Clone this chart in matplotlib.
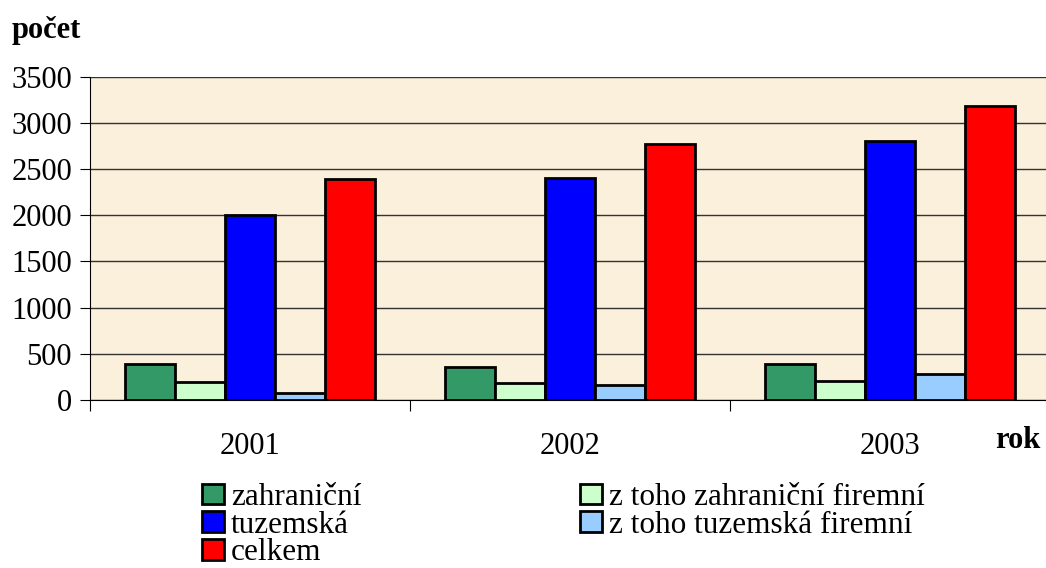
import numpy as np
import matplotlib
matplotlib.use('Agg')
import matplotlib.pyplot as plt

# data
years = ['2001', '2002', '2003']
zahranicni = [390, 360, 385]
zahranicni_firemni = [200, 180, 205]
tuzemska = [2000, 2405, 2800]
tuzemska_firemni = [75, 160, 285]
celkem = [2390, 2765, 3185]

series = [
    ('zahraniční', zahranicni, '#339966'),
    ('z toho zahraniční firemní', zahranicni_firemni, '#CCFFCC'),
    ('tuzemská', tuzemska, '#0000FF'),
    ('z toho tuzemská firemní', tuzemska_firemni, '#99CCFF'),
    ('celkem', celkem, '#FF0000'),
]

plt.rcParams['font.family'] = ['Liberation Serif', 'DejaVu Serif']

W, H = 1046, 568
fig = plt.figure(figsize=(W / 100, H / 100), dpi=100)
ax = fig.add_axes([90 / W, 1 - 400 / H, (1050 - 90) / W, (400 - 76.5) / H])
ax.set_facecolor('#FBF0DC')

x = np.arange(len(years))
bw = 50 / 320
handles = {}
for j, (name, vals, col) in enumerate(series):
    pos = x + (35 + 25 + 50 * j) / 320
    handles[name] = ax.bar(pos, vals, width=bw, color=col, edgecolor='black',
                           linewidth=2.0, zorder=3, label=name)

ax.set_xlim(0, 3)
ax.set_ylim(0, 3500)
ax.set_yticks(np.arange(0, 3501, 500))
ax.yaxis.grid(True, color='#333333', linewidth=1.0, zorder=1)
ax.set_xticks([0, 1, 2, 3])
ax.set_xticklabels([])
ax.set_xticks(x + 0.5, minor=True)
ax.set_xticklabels(years, minor=True)
ax.tick_params(axis='x', which='major', length=8, width=0.8, direction='out')
ax.tick_params(axis='x', which='minor', length=0, pad=23, labelsize=22)
ax.tick_params(axis='y', length=7, width=0.8, labelsize=22, pad=6)
for s in ['top', 'right']:
    ax.spines[s].set_visible(False)

fig.text(12 / W, 1 - 38 / H, 'počet', fontsize=22, fontweight='bold')
fig.text(1040 / W, 1 - 448 / H, 'rok', fontsize=22, fontweight='bold', ha='right')

order = ['zahraniční', 'tuzemská', 'celkem',
         'z toho zahraniční firemní', 'z toho tuzemská firemní']
fig.legend([handles[n] for n in order], order, ncol=2, frameon=False,
           loc='upper left', bbox_to_anchor=(202 / W, 1 - 483 / H),
           fontsize=22.5, handlelength=0.7, handleheight=0.64, handletextpad=0.22,
           labelspacing=-0.04, columnspacing=7.0, borderpad=0, borderaxespad=0)

fig.savefig('out.png', dpi=100)
